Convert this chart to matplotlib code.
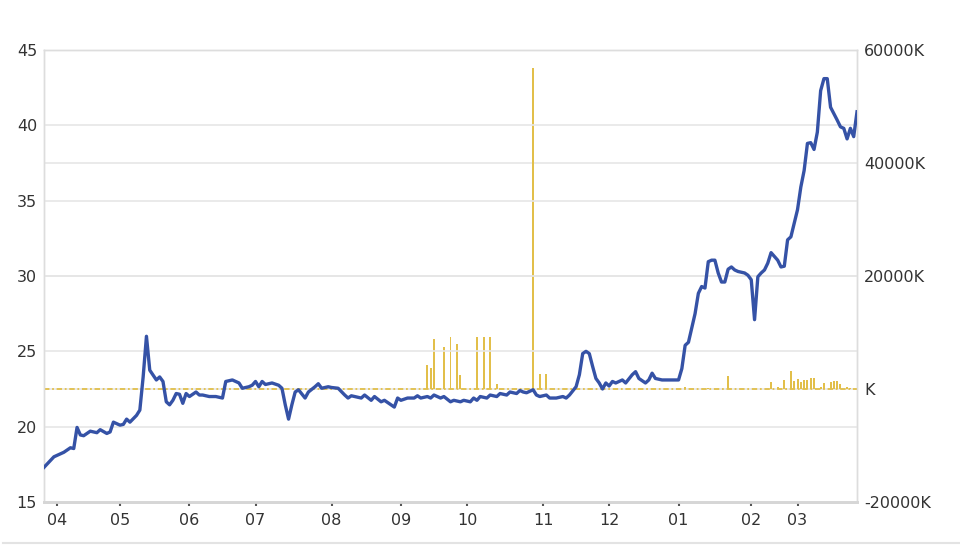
import matplotlib
matplotlib.use("Agg")
import matplotlib.pyplot as plt
from matplotlib.lines import Line2D

# ---- data (trading-day index based) ----
price_day = [0, 3, 4, 6, 8, 9, 10, 11, 12, 14, 16, 17, 19, 20, 21, 23, 24, 25, 26, 28,
             29, 30, 31, 32, 34, 35, 36, 37, 38, 39, 40, 41, 42, 43, 44, 46, 47, 48, 50, 52,
             54, 55, 57, 59, 60, 62, 63, 64, 65, 66, 67, 69, 71, 72, 73, 74, 75, 76, 77, 79,
             80, 82, 83, 84, 86, 87, 89, 91, 92, 93, 95, 96, 97, 99, 100, 102, 103, 105, 106, 107,
             108, 110, 112, 113, 114, 116, 117, 118, 120, 121, 123, 124, 126, 127, 129, 130, 131, 132, 134, 135,
             137, 138, 140, 141, 143, 144, 145, 146, 148, 149, 150, 152, 153, 155, 157, 158, 159, 161, 162, 163,
             164, 165, 166, 167, 168, 169, 170, 171, 172, 173, 175, 176, 178, 179, 180, 182, 183, 184, 185, 187,
             190, 192, 193, 194, 195, 197, 198, 199, 200, 201, 202, 203, 204, 205, 206, 207, 208, 209, 210, 212,
             213, 214, 215, 216, 217, 218, 219, 220, 222, 223, 224, 225, 226, 228, 229, 230, 231, 232, 233, 234,
             235, 236, 237, 238, 240, 241, 242, 243, 244, 245, 246]
price = [17.3, 18.0, 18.1, 18.3, 18.6, 18.55, 19.95, 19.45, 19.4, 19.7, 19.6, 19.8, 19.55, 19.65, 20.3, 20.1, 20.15, 20.5, 20.3, 20.75,
         21.1, 23.3, 26.0, 23.75, 23.1, 23.3, 23.0, 21.65, 21.45, 21.75, 22.2, 22.15, 21.55, 22.2, 22.0, 22.3, 22.1, 22.1, 22.0, 22.0,
         21.9, 23.0, 23.1, 22.9, 22.55, 22.65, 22.75, 23.0, 22.65, 23.0, 22.8, 22.9, 22.75, 22.55, 21.45, 20.5, 21.45, 22.3, 22.45, 21.9,
         22.3, 22.65, 22.85, 22.55, 22.65, 22.6, 22.55, 22.1, 21.9, 22.05, 21.95, 21.9, 22.1, 21.75, 22.0, 21.65, 21.75, 21.45, 21.3, 21.9,
         21.75, 21.9, 21.9, 22.05, 21.9, 22.0, 21.9, 22.1, 21.9, 22.0, 21.65, 21.75, 21.65, 21.75, 21.65, 21.9, 21.75, 22.0, 21.9, 22.1,
         22.0, 22.2, 22.1, 22.3, 22.2, 22.4, 22.3, 22.25, 22.45, 22.1, 22.0, 22.1, 21.9, 21.9, 22.0, 21.9, 22.1, 22.65, 23.45, 24.85,
         25.0, 24.85, 24.0, 23.2, 22.9, 22.5, 22.9, 22.7, 23.0, 22.9, 23.1, 22.9, 23.45, 23.65, 23.2, 22.9, 23.1, 23.55, 23.2, 23.1,
         23.1, 23.1, 23.85, 25.4, 25.6, 27.5, 28.85, 29.3, 29.2, 30.95, 31.05, 31.05, 30.2, 29.6, 29.6, 30.45, 30.6, 30.4, 30.3, 30.2,
         30.05, 29.75, 27.1, 29.95, 30.2, 30.4, 30.85, 31.55, 31.05, 30.6, 30.65, 32.4, 32.6, 34.4, 35.9, 37.0, 38.8, 38.85, 38.4, 39.55,
         42.3, 43.1, 43.1, 41.2, 40.35, 39.9, 39.8, 39.1, 39.8, 39.25, 40.9]

vol_day = [116, 117, 118, 121, 123, 125, 126, 131, 133, 135, 137, 148, 150, 152,
           194, 201, 207, 220, 222, 224, 226, 227, 228, 229, 230, 231, 232, 233,
           235, 236, 238, 239, 240, 241, 243, 244]
volume_k = [4200, 3770, 8800, 7430, 9200, 8020, 2420, 9200, 9200, 9200, 940, 56800, 2710, 2710,
            400, 200, 2300, 1200, 300, 1600, 3200, 1500, 1700, 1200, 1600, 1600, 1900, 2000,
            300, 1000, 1200, 1500, 1500, 900, 300, 200]

month_tick_day = [4, 23, 44, 64, 87, 108, 128, 151, 171, 192, 214, 228]
month_labels = ["04", "05", "06", "07", "08", "09", "10", "11", "12", "01", "02", "03"]

left_ticks = [15, 20, 25, 30, 35, 40, 45]
right_ticks = [-20000, 0, 20000, 40000, 60000]
right_labels = ["-20000K", "K", "20000K", "40000K", "60000K"]

# ---- styling ----
plt.rcParams['font.family'] = ['DejaVu Sans']
BLUE = "#3552a6"
GOLD = "#e2bf4a"
GRID = "#e6e6e6"
TXT = "#333333"
FS = 11.5

fig = plt.figure(figsize=(9.6, 5.52), dpi=100)
ax = fig.add_axes([44/960, 50/552, 813/960, 452/552])
ax2 = ax.twinx()

# volume on right axis, drawn below price
ax.set_zorder(2)
ax.patch.set_visible(False)
ax2.set_zorder(1)

ax2.bar(vol_day, volume_k, width=0.6, color=GOLD, linewidth=0, zorder=3)
ax2.axhline(0, color=GOLD, lw=1.3, linestyle=(0, (3, 1.5, 1, 1.5)), zorder=3)
ax2.set_ylim(-20000, 60000)
ax2.set_yticks(right_ticks)
ax2.set_yticklabels(right_labels)
ax2.yaxis.grid(True, color=GRID, lw=1.2, zorder=0)

ax.plot(price_day, price, color=BLUE, lw=2.4, solid_joinstyle='round', zorder=4)
ax.set_ylim(15, 45)
ax.set_xlim(0, 246)
ax.set_yticks(left_ticks)
ax.set_xticks(month_tick_day)
ax.set_xticklabels(month_labels)
ax.yaxis.grid(True, color=GRID, lw=1.2)
ax2.set_xticks(month_tick_day)
ax2.xaxis.grid(True, color=GRID, lw=1.2, zorder=0)
ax2.set_xlim(0, 246)

for a in (ax, ax2):
    for side in ("left", "right", "top"):
        a.spines[side].set_color("#dddddd")
        a.spines[side].set_linewidth(1.0)
    a.spines["bottom"].set_color("#d6d6d6")
    a.spines["bottom"].set_linewidth(2.0)

ax.tick_params(axis='y', length=0, pad=5, labelsize=FS, labelcolor=TXT)
ax2.tick_params(axis='y', length=0, pad=5, labelsize=FS, labelcolor=TXT)
ax.tick_params(axis='x', length=3, width=1.5, color="#555555", pad=5, labelsize=FS, labelcolor=TXT, direction='out')
ax2.tick_params(axis='x', length=0)

# separator line at the bottom of the figure
fig.add_artist(Line2D([0.003, 1.0], [1 - 543/552, 1 - 543/552], transform=fig.transFigure,
                      color="#e3e3e3", lw=1.5))

fig.savefig("out.png", dpi=100)
